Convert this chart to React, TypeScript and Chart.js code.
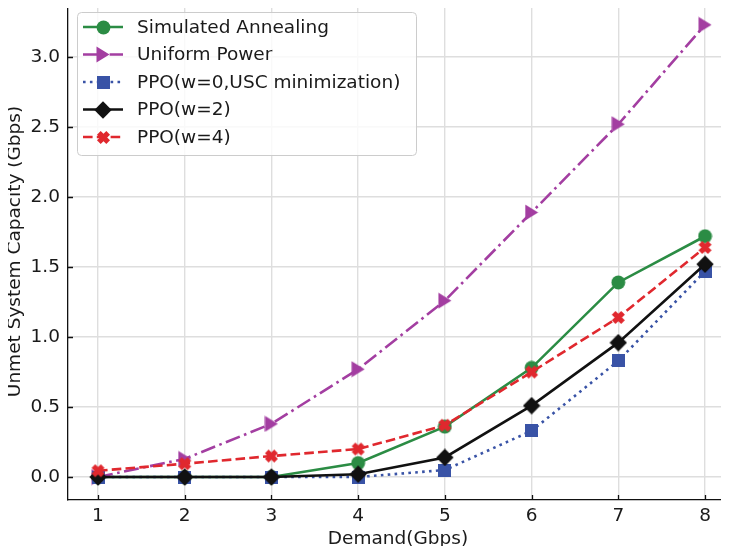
import React, { useEffect, useRef } from 'react';
import { Chart, registerables } from 'chart.js';

Chart.register(...registerables);

// ---- data ----
const demand = [1, 2, 3, 4, 5, 6, 7, 8];
const simulatedAnnealing = [0, 0, 0, 0.1, 0.36, 0.78, 1.39, 1.72];
const uniformPower = [0.0, 0.13, 0.38, 0.77, 1.26, 1.89, 2.52, 3.23];
const ppoW0 = [0, 0, 0, 0, 0.05, 0.33, 0.83, 1.47];
const ppoW2 = [0, 0, 0, 0.02, 0.14, 0.51, 0.96, 1.52];
const ppoW4 = [0.045, 0.095, 0.15, 0.2, 0.37, 0.75, 1.14, 1.64];
const seriesLabels = [
  'Simulated Annealing',
  'Uniform Power',
  'PPO(w=0,USC minimization)',
  'PPO(w=2)',
  'PPO(w=4)',
];
const xTicks = [1, 2, 3, 4, 5, 6, 7, 8];
const yTicks = [0, 0.5, 1.0, 1.5, 2.0, 2.5, 3.0];
const xLabel = 'Demand(Gbps)';
const yLabel = 'Unmet System Capacity (Gbps)';

const FONT = '"DejaVu Sans", "Liberation Sans", sans-serif';
const FS = 18.5;
const TEXT = '#1a1a1a';

const GREEN = '#2b8c44';
const PURPLE = '#a33ea1';
const BLUE = '#3953a6';
const BLACK = '#111111';
const RED = '#e0282e';

function makeMarker(kind: string, color: string): HTMLCanvasElement {
  const c = document.createElement('canvas');
  let w = 15, h = 15;
  if (kind === 'triangle') { w = 14; h = 17; }
  if (kind === 'square') { w = 13; h = 13; }
  if (kind === 'diamond') { w = 18; h = 18; }
  c.width = w; c.height = h;
  const ctx = c.getContext('2d')!;
  ctx.fillStyle = color;
  ctx.strokeStyle = color;
  ctx.beginPath();
  if (kind === 'circle') {
    ctx.arc(w / 2, h / 2, 6.9, 0, Math.PI * 2);
    ctx.fill();
  } else if (kind === 'triangle') {
    ctx.moveTo(0.5, 0.5);
    ctx.lineTo(0.5, h - 0.5);
    ctx.lineTo(w - 0.5, h / 2);
    ctx.closePath();
    ctx.fill();
  } else if (kind === 'square') {
    ctx.rect(0, 0, w, h);
    ctx.fill();
  } else if (kind === 'diamond') {
    ctx.moveTo(w / 2, 0.3);
    ctx.lineTo(w - 0.3, h / 2);
    ctx.lineTo(w / 2, h - 0.3);
    ctx.lineTo(0.3, h / 2);
    ctx.closePath();
    ctx.fill();
  } else if (kind === 'x') {
    const s = w / 2;
    const a = 2.6;
    const L = 6.6;
    ctx.translate(s, s);
    ctx.rotate(Math.PI / 4);
    ctx.moveTo(-a, -L);
    ctx.lineTo(a, -L);
    ctx.lineTo(a, -a);
    ctx.lineTo(L, -a);
    ctx.lineTo(L, a);
    ctx.lineTo(a, a);
    ctx.lineTo(a, L);
    ctx.lineTo(-a, L);
    ctx.lineTo(-a, a);
    ctx.lineTo(-L, a);
    ctx.lineTo(-L, -a);
    ctx.lineTo(-a, -a);
    ctx.closePath();
    ctx.fill();
  }
  return c;
}

const framePlugin = {
  id: 'framePlugin',
  afterDraw(chart: any) {
    const ctx: CanvasRenderingContext2D = chart.ctx;
    const area = chart.chartArea;
    const xs = chart.scales.x;
    const ys = chart.scales.y;
    ctx.save();
    ctx.strokeStyle = BLACK;
    ctx.lineWidth = 1.3;
    ctx.setLineDash([]);
    ctx.beginPath();
    ctx.moveTo(area.left, area.top + 0.5);
    ctx.lineTo(area.right, area.top + 0.5);
    ctx.stroke();
    ctx.beginPath();
    xTicks.forEach((v) => {
      const px = Math.round(xs.getPixelForValue(v)) + 0.5;
      ctx.moveTo(px, area.bottom);
      ctx.lineTo(px, area.bottom - 5);
    });
    yTicks.forEach((v) => {
      const py = Math.round(ys.getPixelForValue(v)) + 0.5;
      ctx.moveTo(area.left, py);
      ctx.lineTo(area.left + 5, py);
    });
    ctx.stroke();

    // legend
    const bx = 77.5, by = 12.5, bw = 339, bh = 143, r = 4;
    ctx.beginPath();
    ctx.moveTo(bx + r, by);
    ctx.lineTo(bx + bw - r, by);
    ctx.arcTo(bx + bw, by, bx + bw, by + r, r);
    ctx.lineTo(bx + bw, by + bh - r);
    ctx.arcTo(bx + bw, by + bh, bx + bw - r, by + bh, r);
    ctx.lineTo(bx + r, by + bh);
    ctx.arcTo(bx, by + bh, bx, by + bh - r, r);
    ctx.lineTo(bx, by + r);
    ctx.arcTo(bx, by, bx + r, by, r);
    ctx.closePath();
    ctx.fillStyle = 'rgba(255,255,255,0.8)';
    ctx.fill();
    ctx.strokeStyle = '#cccccc';
    ctx.lineWidth = 1;
    ctx.stroke();

    chart.data.datasets.forEach((ds: any, i: number) => {
      const y = 27 + i * 27.5;
      ctx.strokeStyle = ds.borderColor;
      ctx.lineWidth = ds.borderWidth;
      ctx.lineCap = 'butt';
      ctx.setLineDash(ds.borderDash || []);
      ctx.beginPath();
      ctx.moveTo(83, y);
      ctx.lineTo(123, y);
      ctx.stroke();
      ctx.setLineDash([]);
      const m: HTMLCanvasElement = ds.pointStyle;
      ctx.drawImage(m, Math.round(103 - m.width / 2), Math.round(y - m.height / 2));
      ctx.fillStyle = TEXT;
      ctx.font = `${FS}px ${FONT}`;
      ctx.textBaseline = 'middle';
      ctx.textAlign = 'left';
      ctx.fillText(seriesLabels[i], 137, y + 1);
    });
    ctx.restore();
  },
};

export default function App() {
  const ref = useRef<HTMLCanvasElement | null>(null);

  useEffect(() => {
    if (!ref.current) return;
    const mk = (arr: number[]) => demand.map((x, i) => ({ x, y: arr[i] }));
    const series = [
      { data: simulatedAnnealing, color: GREEN, dash: [], marker: 'circle', order: 5 },
      { data: uniformPower, color: PURPLE, dash: [15, 4.5, 2.6, 4.5], marker: 'triangle', order: 4 },
      { data: ppoW0, color: BLUE, dash: [2.6, 4.3], marker: 'square', order: 3 },
      { data: ppoW2, color: BLACK, dash: [], marker: 'diamond', order: 2 },
      { data: ppoW4, color: RED, dash: [9.6, 4.2], marker: 'x', order: 1 },
    ];
    const chart = new Chart(ref.current, {
      type: 'line',
      data: {
        datasets: series.map((s, i) => ({
          label: seriesLabels[i],
          data: mk(s.data),
          borderColor: s.color,
          backgroundColor: s.color,
          borderWidth: 2.6,
          borderDash: s.dash,
          borderCapStyle: 'butt',
          pointStyle: makeMarker(s.marker, s.color),
          pointRadius: 7,
          pointHoverRadius: 7,
          tension: 0,
          fill: false,
          clip: false,
          order: s.order,
        })) as any,
      },
      options: {
        animation: false,
        responsive: false,
        layout: { autoPadding: false, padding: { top: 3, right: 1, left: 0, bottom: 0 } },
        plugins: {
          legend: { display: false },
          tooltip: { enabled: false },
        },
        scales: {
          x: {
            type: 'linear',
            min: 0.654,
            max: 8.265,
            afterBuildTicks: (scale: any) => {
              scale.ticks = xTicks.map((v) => ({ value: v }));
            },
            afterFit: (scale: any) => {
              scale.height = 54;
              scale.paddingLeft = 0;
              scale.paddingRight = 0;
            },
            grid: { color: '#dedede', lineWidth: 1.4, drawTicks: false },
            border: { color: BLACK, width: 1.3 },
            ticks: {
              font: { family: FONT, size: FS },
              color: TEXT,
              padding: 5,
              callback: (v: any) => String(v),
            },
            title: {
              display: true,
              text: xLabel,
              font: { family: FONT, size: FS },
              color: TEXT,
              padding: { top: 0, bottom: 4 },
            },
          },
          y: {
            type: 'linear',
            min: -0.164,
            max: 3.386,
            afterBuildTicks: (scale: any) => {
              scale.ticks = yTicks.map((v) => ({ value: v }));
            },
            afterFit: (scale: any) => {
              scale.width = 68;
              scale.paddingTop = 0;
              scale.paddingBottom = 0;
            },
            grid: { color: '#dedede', lineWidth: 1.4, drawTicks: false },
            border: { color: BLACK, width: 1.3 },
            ticks: {
              font: { family: FONT, size: FS },
              color: TEXT,
              padding: 8,
              callback: (v: any) => Number(v).toFixed(1),
            },
            title: {
              display: true,
              text: yLabel,
              font: { family: FONT, size: FS },
              color: TEXT,
              padding: { top: 4, bottom: 0 },
            },
          },
        },
      } as any,
      plugins: [framePlugin],
    });
    return () => chart.destroy();
  }, []);

  return (
    <div style={{ width: 729, height: 554, margin: -8, position: 'relative', background: '#fff' }}>
      <canvas ref={ref} width={729} height={554} style={{ display: 'block' }} />
    </div>
  );
}
